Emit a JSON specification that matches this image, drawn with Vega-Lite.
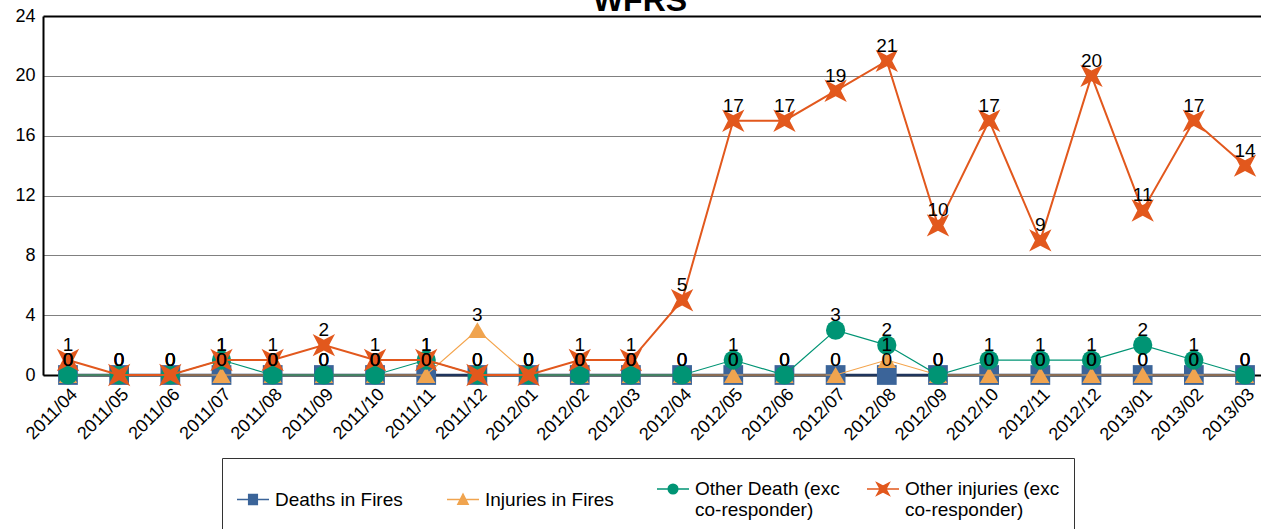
{
  "$schema": "https://vega.github.io/schema/vega-lite/v6.json",
  "autosize": {"type": "none"},
  "width": 1218,
  "height": 359,
  "padding": {"left": 43, "top": 16, "right": 0, "bottom": 154},
  "background": "white",
  "config": {
    "view": {"stroke": null},
    "font": "Liberation Sans",
    "axis": {"labelFont": "Liberation Sans", "labelColor": "black", "ticks": false, "title": null}
  },
  "title": {"text": "WFRS", "fontSize": 32, "fontWeight": "bold", "font": "Liberation Sans", "color": "black", "anchor": "middle", "frame": "group", "offset": 0, "baseline": "alphabetic", "dx": -12, "dy": 36},
  "data": {"values": [
    {"month": "2011/04", "series": "Deaths in Fires", "value": 0},
    {"month": "2011/04", "series": "Injuries in Fires", "value": 0},
    {"month": "2011/04", "series": "Other Death (exc co-responder)", "value": 0},
    {"month": "2011/04", "series": "Other injuries (exc co-responder)", "value": 1},
    {"month": "2011/05", "series": "Deaths in Fires", "value": 0},
    {"month": "2011/05", "series": "Injuries in Fires", "value": 0},
    {"month": "2011/05", "series": "Other Death (exc co-responder)", "value": 0},
    {"month": "2011/05", "series": "Other injuries (exc co-responder)", "value": 0},
    {"month": "2011/06", "series": "Deaths in Fires", "value": 0},
    {"month": "2011/06", "series": "Injuries in Fires", "value": 0},
    {"month": "2011/06", "series": "Other Death (exc co-responder)", "value": 0},
    {"month": "2011/06", "series": "Other injuries (exc co-responder)", "value": 0},
    {"month": "2011/07", "series": "Deaths in Fires", "value": 0},
    {"month": "2011/07", "series": "Injuries in Fires", "value": 0},
    {"month": "2011/07", "series": "Other Death (exc co-responder)", "value": 1},
    {"month": "2011/07", "series": "Other injuries (exc co-responder)", "value": 1},
    {"month": "2011/08", "series": "Deaths in Fires", "value": 0},
    {"month": "2011/08", "series": "Injuries in Fires", "value": 0},
    {"month": "2011/08", "series": "Other Death (exc co-responder)", "value": 0},
    {"month": "2011/08", "series": "Other injuries (exc co-responder)", "value": 1},
    {"month": "2011/09", "series": "Deaths in Fires", "value": 0},
    {"month": "2011/09", "series": "Injuries in Fires", "value": 0},
    {"month": "2011/09", "series": "Other Death (exc co-responder)", "value": 0},
    {"month": "2011/09", "series": "Other injuries (exc co-responder)", "value": 2},
    {"month": "2011/10", "series": "Deaths in Fires", "value": 0},
    {"month": "2011/10", "series": "Injuries in Fires", "value": 0},
    {"month": "2011/10", "series": "Other Death (exc co-responder)", "value": 0},
    {"month": "2011/10", "series": "Other injuries (exc co-responder)", "value": 1},
    {"month": "2011/11", "series": "Deaths in Fires", "value": 0},
    {"month": "2011/11", "series": "Injuries in Fires", "value": 0},
    {"month": "2011/11", "series": "Other Death (exc co-responder)", "value": 1},
    {"month": "2011/11", "series": "Other injuries (exc co-responder)", "value": 1},
    {"month": "2011/12", "series": "Deaths in Fires", "value": 0},
    {"month": "2011/12", "series": "Injuries in Fires", "value": 3},
    {"month": "2011/12", "series": "Other Death (exc co-responder)", "value": 0},
    {"month": "2011/12", "series": "Other injuries (exc co-responder)", "value": 0},
    {"month": "2012/01", "series": "Deaths in Fires", "value": 0},
    {"month": "2012/01", "series": "Injuries in Fires", "value": 0},
    {"month": "2012/01", "series": "Other Death (exc co-responder)", "value": 0},
    {"month": "2012/01", "series": "Other injuries (exc co-responder)", "value": 0},
    {"month": "2012/02", "series": "Deaths in Fires", "value": 0},
    {"month": "2012/02", "series": "Injuries in Fires", "value": 0},
    {"month": "2012/02", "series": "Other Death (exc co-responder)", "value": 0},
    {"month": "2012/02", "series": "Other injuries (exc co-responder)", "value": 1},
    {"month": "2012/03", "series": "Deaths in Fires", "value": 0},
    {"month": "2012/03", "series": "Injuries in Fires", "value": 0},
    {"month": "2012/03", "series": "Other Death (exc co-responder)", "value": 0},
    {"month": "2012/03", "series": "Other injuries (exc co-responder)", "value": 1},
    {"month": "2012/04", "series": "Deaths in Fires", "value": 0},
    {"month": "2012/04", "series": "Injuries in Fires", "value": 0},
    {"month": "2012/04", "series": "Other Death (exc co-responder)", "value": 0},
    {"month": "2012/04", "series": "Other injuries (exc co-responder)", "value": 5},
    {"month": "2012/05", "series": "Deaths in Fires", "value": 0},
    {"month": "2012/05", "series": "Injuries in Fires", "value": 0},
    {"month": "2012/05", "series": "Other Death (exc co-responder)", "value": 1},
    {"month": "2012/05", "series": "Other injuries (exc co-responder)", "value": 17},
    {"month": "2012/06", "series": "Deaths in Fires", "value": 0},
    {"month": "2012/06", "series": "Injuries in Fires", "value": 0},
    {"month": "2012/06", "series": "Other Death (exc co-responder)", "value": 0},
    {"month": "2012/06", "series": "Other injuries (exc co-responder)", "value": 17},
    {"month": "2012/07", "series": "Deaths in Fires", "value": 0},
    {"month": "2012/07", "series": "Injuries in Fires", "value": 0},
    {"month": "2012/07", "series": "Other Death (exc co-responder)", "value": 3},
    {"month": "2012/07", "series": "Other injuries (exc co-responder)", "value": 19},
    {"month": "2012/08", "series": "Deaths in Fires", "value": 0},
    {"month": "2012/08", "series": "Injuries in Fires", "value": 1},
    {"month": "2012/08", "series": "Other Death (exc co-responder)", "value": 2},
    {"month": "2012/08", "series": "Other injuries (exc co-responder)", "value": 21},
    {"month": "2012/09", "series": "Deaths in Fires", "value": 0},
    {"month": "2012/09", "series": "Injuries in Fires", "value": 0},
    {"month": "2012/09", "series": "Other Death (exc co-responder)", "value": 0},
    {"month": "2012/09", "series": "Other injuries (exc co-responder)", "value": 10},
    {"month": "2012/10", "series": "Deaths in Fires", "value": 0},
    {"month": "2012/10", "series": "Injuries in Fires", "value": 0},
    {"month": "2012/10", "series": "Other Death (exc co-responder)", "value": 1},
    {"month": "2012/10", "series": "Other injuries (exc co-responder)", "value": 17},
    {"month": "2012/11", "series": "Deaths in Fires", "value": 0},
    {"month": "2012/11", "series": "Injuries in Fires", "value": 0},
    {"month": "2012/11", "series": "Other Death (exc co-responder)", "value": 1},
    {"month": "2012/11", "series": "Other injuries (exc co-responder)", "value": 9},
    {"month": "2012/12", "series": "Deaths in Fires", "value": 0},
    {"month": "2012/12", "series": "Injuries in Fires", "value": 0},
    {"month": "2012/12", "series": "Other Death (exc co-responder)", "value": 1},
    {"month": "2012/12", "series": "Other injuries (exc co-responder)", "value": 20},
    {"month": "2013/01", "series": "Deaths in Fires", "value": 0},
    {"month": "2013/01", "series": "Injuries in Fires", "value": 0},
    {"month": "2013/01", "series": "Other Death (exc co-responder)", "value": 2},
    {"month": "2013/01", "series": "Other injuries (exc co-responder)", "value": 11},
    {"month": "2013/02", "series": "Deaths in Fires", "value": 0},
    {"month": "2013/02", "series": "Injuries in Fires", "value": 0},
    {"month": "2013/02", "series": "Other Death (exc co-responder)", "value": 1},
    {"month": "2013/02", "series": "Other injuries (exc co-responder)", "value": 17},
    {"month": "2013/03", "series": "Deaths in Fires", "value": 0},
    {"month": "2013/03", "series": "Injuries in Fires", "value": 0},
    {"month": "2013/03", "series": "Other Death (exc co-responder)", "value": 0},
    {"month": "2013/03", "series": "Other injuries (exc co-responder)", "value": 14}
  ]},
  "encoding": {
    "x": {"field": "month", "type": "ordinal", "sort": null,
      "scale": {"type": "point", "padding": 0.4, "align": 0.61},
      "axis": {"labelAngle": -45, "labelFontSize": 18, "labelPadding": 10, "domainColor": "black", "domainWidth": 2, "grid": false}},
    "y": {"field": "value", "type": "quantitative",
      "scale": {"domain": [0, 24], "nice": false, "zero": true},
      "axis": {"values": [0, 4, 8, 12, 16, 20, 24], "labelFontSize": 18, "labelPadding": 8, "domainColor": "black", "domainWidth": 2,
        "grid": true,
        "gridColor": {"condition": {"test": "datum.value == 24", "value": "black"}, "value": "#808080"},
        "gridWidth": {"condition": {"test": "datum.value == 24", "value": 2}, "value": 1.2}}}
  },
  "layer": [
    {"transform": [{"filter": "datum.series == 'Deaths in Fires'"}],
     "mark": {"type": "line", "color": "#1f355c", "strokeWidth": 2.5}},
    {"transform": [{"filter": "datum.series == 'Deaths in Fires'"}],
     "mark": {"type": "point", "shape": "square", "filled": true, "size": 390, "opacity": 1, "color": "#3b6499"}},
    {"transform": [{"filter": "datum.series == 'Injuries in Fires'"}],
     "mark": {"type": "line", "color": "#f4a44c", "strokeWidth": 1.2}},
    {"transform": [{"filter": "datum.series == 'Injuries in Fires'"}],
     "mark": {"type": "point", "shape": "triangle-up", "filled": true, "size": 340, "opacity": 1, "color": "#f0a44f"}},
    {"transform": [{"filter": "datum.series == 'Other Death (exc co-responder)'"}],
     "mark": {"type": "line", "color": "#009474", "strokeWidth": 1.2}},
    {"transform": [{"filter": "datum.series == 'Other Death (exc co-responder)'"}],
     "mark": {"type": "point", "shape": "circle", "filled": true, "size": 370, "opacity": 1, "color": "#009474"}},
    {"transform": [{"filter": "datum.series == 'Other injuries (exc co-responder)'"}],
     "mark": {"type": "line", "color": "#e2581d", "strokeWidth": 2}},
    {"transform": [{"filter": "datum.series == 'Other injuries (exc co-responder)'"}],
     "mark": {"type": "point", "shape": "M-1,-1L0,-0.48L1,-1L0.48,0L1,1L0,0.48L-1,1L-0.48,0Z", "filled": true, "size": 500, "opacity": 1, "color": "#e2581d"}},
    {"mark": {"type": "point", "filled": true, "opacity": 0, "size": 1},
     "encoding": {
       "color": {"field": "series", "type": "nominal",
         "scale": {"domain": ["Deaths in Fires", "Injuries in Fires", "Other Death (exc co-responder)", "Other injuries (exc co-responder)"],
                   "range": ["#3b6499", "#f0a44f", "#009474", "#e2581d"]},
         "legend": {"orient": "none", "legendX": 179, "legendY": 442, "direction": "horizontal", "columns": 4, "gridAlign": "all",
           "title": null, "symbolSize": 1024, "symbolStrokeWidth": 1.5, "symbolOpacity": 1,
           "labelFont": "Liberation Sans", "labelFontSize": 19, "labelColor": "black", "labelOffset": 5, "labelLimit": 300,
           "columnPadding": 14, "padding": 14, "strokeColor": "#333333", "fillColor": "white",
           "labelExpr": "indexof(datum.label, ' co-') > 0 ? [slice(datum.label, 0, indexof(datum.label, ' co-')), slice(datum.label, indexof(datum.label, ' co-') + 1)] : datum.label",
           "encode": {"symbols": {"update": {"stroke": {"scale": "color", "field": "value"}, "opacity": {"value": 1}}}}}},
       "shape": {"field": "series", "type": "nominal",
         "scale": {"domain": ["Deaths in Fires", "Injuries in Fires", "Other Death (exc co-responder)", "Other injuries (exc co-responder)"],
                   "range": [
                     "M-1,0H1M-0.27,-0.31H0.27V0.31H-0.27Z",
                     "M-1,0H1M0,-0.34L0.32,0.3H-0.32Z",
                     "M-1,0H1M0.3,0A0.3,0.3 0 1 1 -0.3,0A0.3,0.3 0 1 1 0.3,0Z",
                     "M-1,0H1M-0.38,-0.38L0,-0.18L0.38,-0.38L0.18,0L0.38,0.38L0,0.18L-0.38,0.38L-0.18,0Z"]}}
     }},
    {"mark": {"type": "text", "fontSize": 19, "font": "Liberation Sans", "color": "black", "baseline": "middle", "dy": -15},
     "encoding": {"text": {"field": "value", "type": "quantitative"}}}
  ]
}
